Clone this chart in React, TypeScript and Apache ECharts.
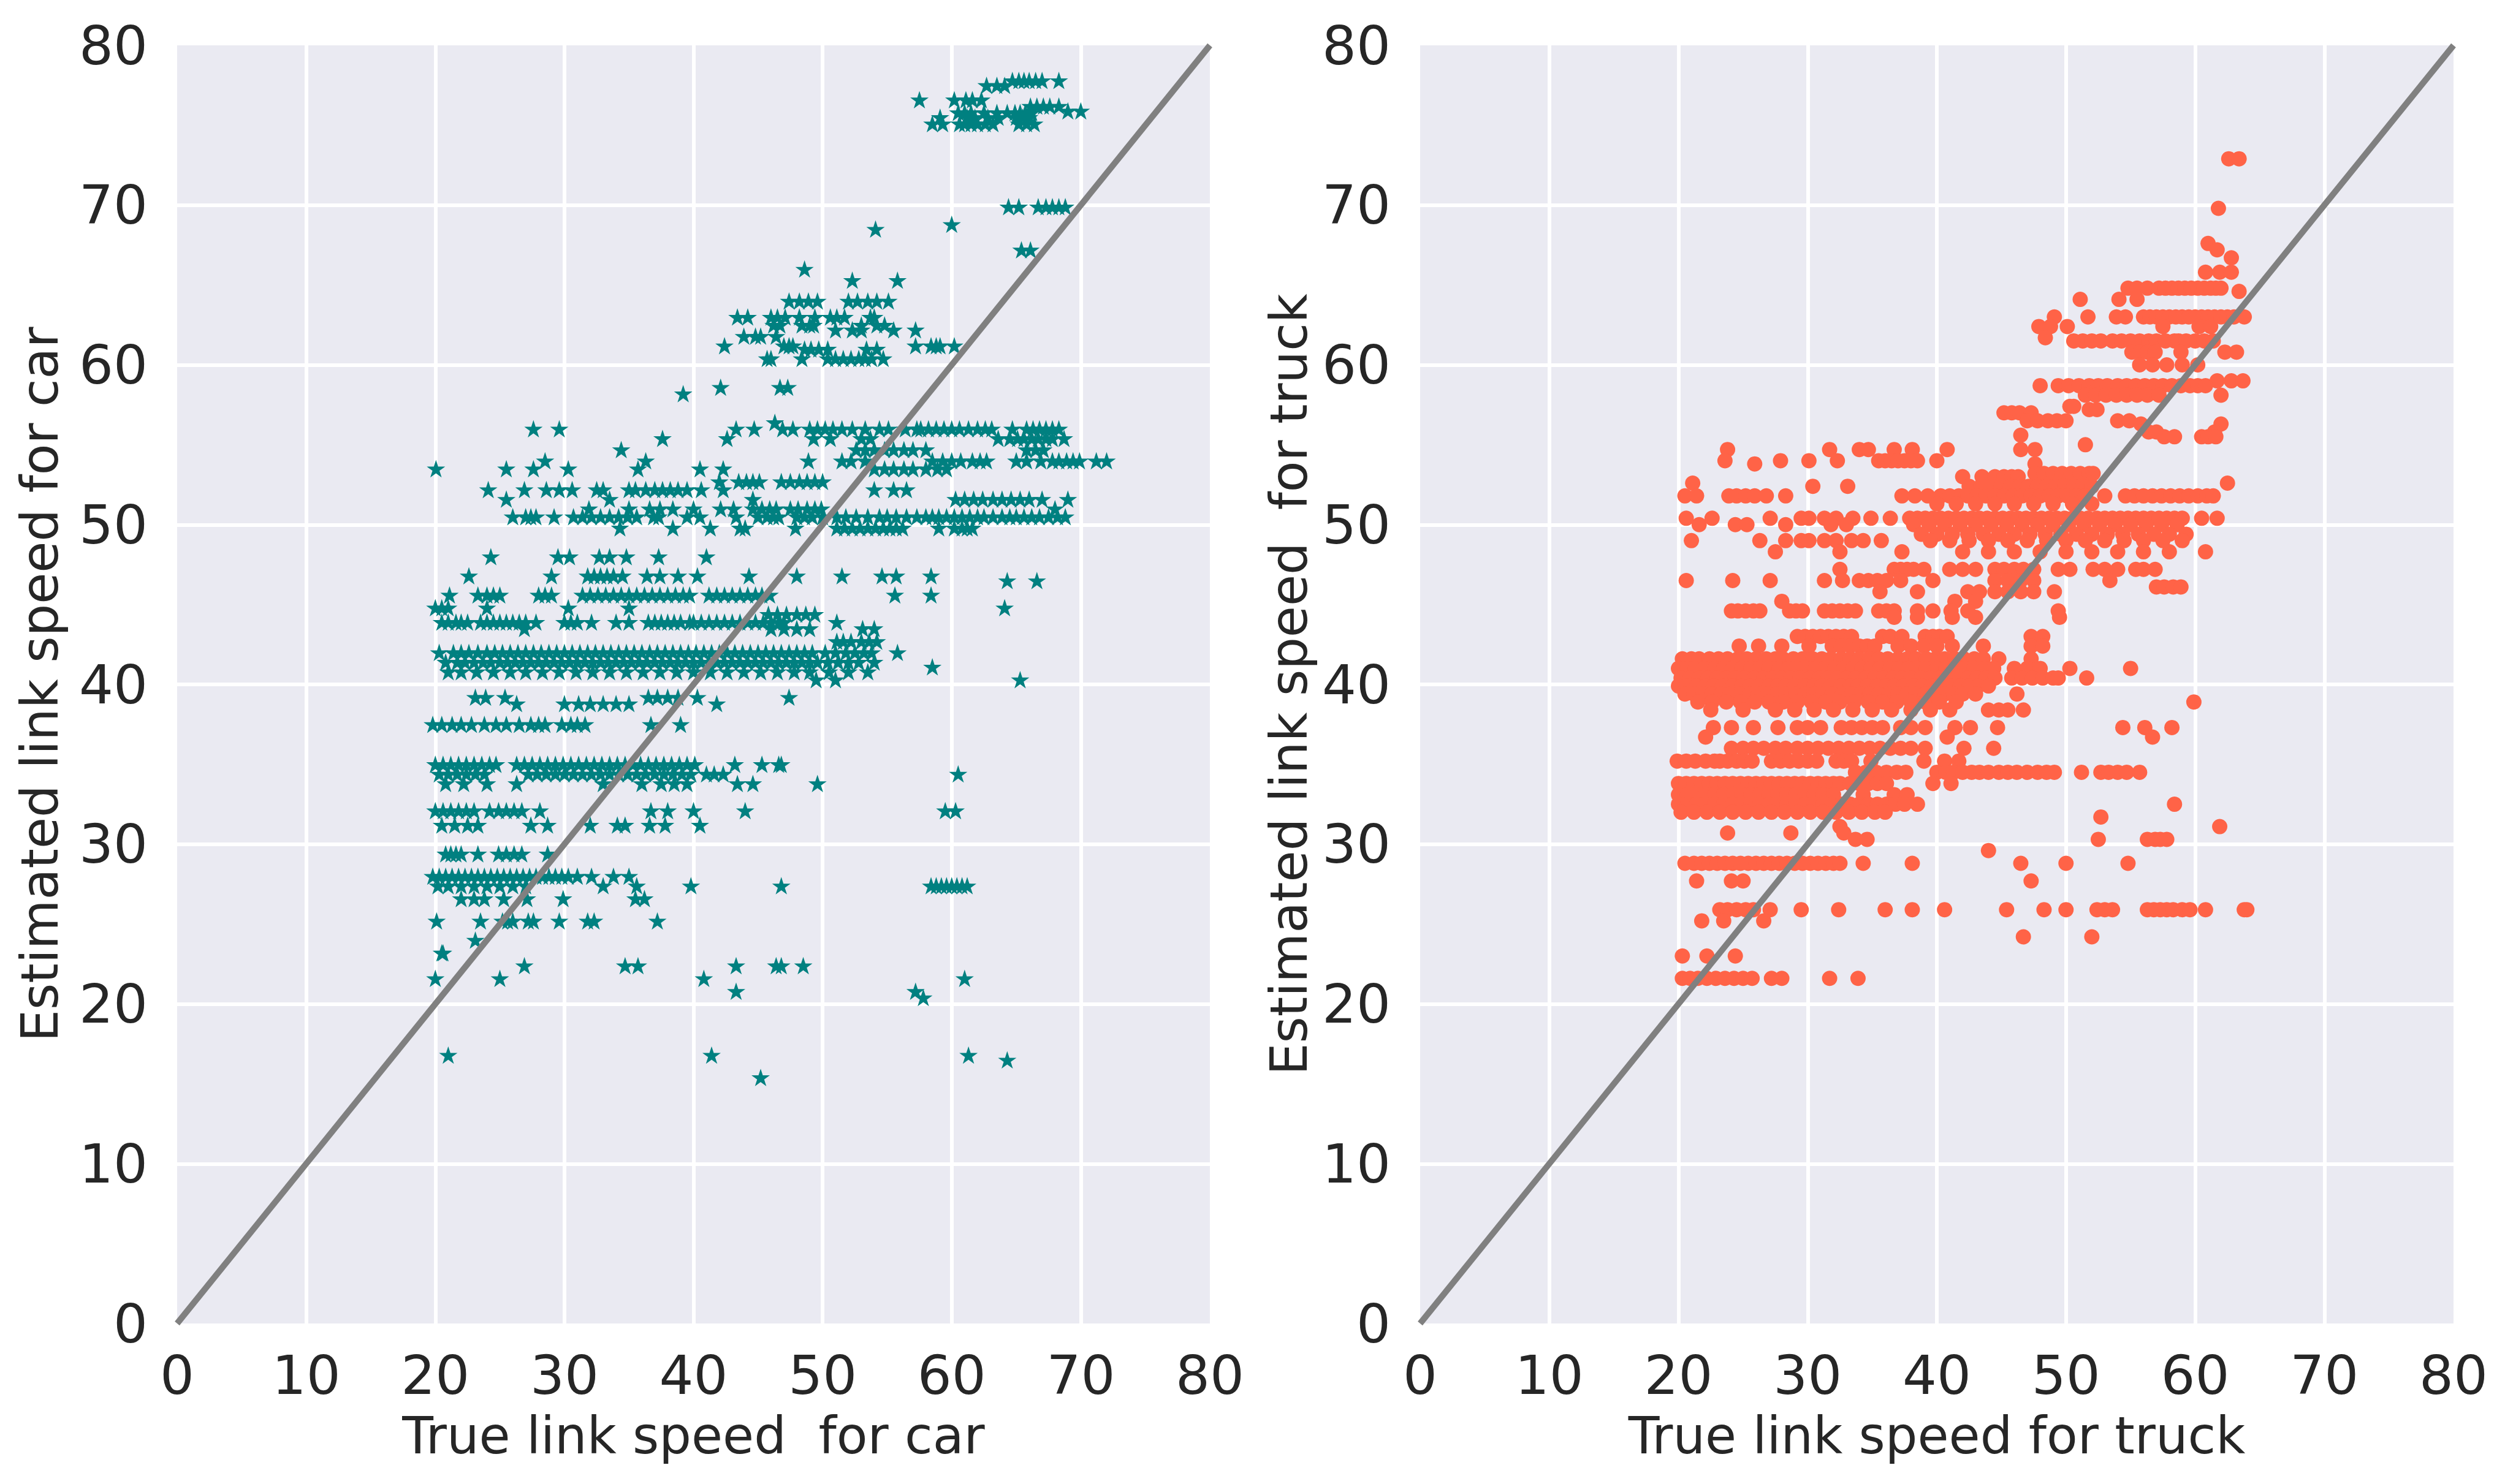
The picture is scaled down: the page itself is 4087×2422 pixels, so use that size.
import React, { useEffect, useRef } from "react";
import * as echarts from "echarts";

// ---- axis ticks ----
const tickValues = [0, 10, 20, 30, 40, 50, 60, 70, 80];

// ---- car: rows of [estimated speed, true speeds...] ----
const carRows: [number, number[]][] = [
  [77.8, [64.7, 65.2, 65.6, 66.0, 66.5, 67.0, 68.3]],
  [77.5, [62.7, 63.5, 64.1]],
  [76.6, [57.5, 60.2, 61.1, 61.6, 62.3]],
  [76.2, [66.1, 66.6, 67.1, 67.6, 68.3]],
  [75.9, [69.0, 70.0]],
  [75.8, [60.5, 61.0, 61.5, 62.5, 63.5, 64.3, 64.9, 65.3, 65.7, 66.2]],
  [75.5, [59.1, 61.2, 61.8, 62.8, 63.6, 65.0, 65.5, 66.0]],
  [75.1, [58.5, 59.3, 60.6, 61.0, 61.5, 62.0, 62.6, 63.2, 65.2, 65.8, 66.4]],
  [69.9, [64.4, 65.2, 66.7, 67.3, 67.8, 68.3, 68.8]],
  [68.8, [60.0]],
  [68.5, [54.1]],
  [67.2, [65.4, 66.1]],
  [66.0, [48.6]],
  [65.3, [52.3, 55.8]],
  [64.0, [47.4, 48.2, 48.9, 49.6, 52.0, 52.7, 53.5, 54.2, 55.1]],
  [63.0, [43.4, 44.2, 46.0, 46.5, 47.1, 48.2, 49.4, 50.6, 51.1, 51.7, 53.7, 54.0]],
  [62.5, [46.2, 46.7, 48.4, 49.0, 49.3, 53.0, 54.2, 54.8]],
  [62.2, [51.0, 52.3, 53.0, 55.5, 57.2]],
  [61.8, [43.9, 44.8, 45.2, 46.4]],
  [61.2, [42.4, 47.0, 47.4, 47.7, 57.2, 58.4, 58.8, 59.1, 60.2]],
  [61.0, [48.6, 49.1, 49.7, 50.4, 53.4, 54.2]],
  [60.4, [45.7, 46.0, 48.4, 50.4, 51.0, 51.6, 52.2, 52.8, 53.3, 53.8, 54.7]],
  [58.6, [42.1, 46.7, 47.3]],
  [58.2, [39.2]],
  [56.4, [46.3]],
  [56.0, [27.6, 29.6, 43.3, 44.7, 46.9, 47.7, 49.0, 49.6, 50.2, 50.8, 51.5, 52.3, 53.3, 54.4, 55.1, 56.4, 57.3, 57.6, 58.2, 58.8, 59.4, 60.0, 60.6, 61.3, 62.0, 62.6, 63.1, 64.7, 65.8, 66.3, 66.8, 67.3, 67.8, 68.3]],
  [55.4, [37.6, 42.6, 49.3, 50.6, 53.0, 53.7, 63.6, 64.5, 65.1, 65.6, 66.2, 66.7, 67.3, 67.8, 68.7]],
  [54.7, [34.4, 52.6, 53.3, 54.0, 54.8, 55.5, 56.3, 57.0, 58.0, 65.8, 66.5, 67.1]],
  [54.0, [28.5, 36.3, 48.9, 51.5, 52.2, 53.3, 58.5, 59.3, 60.0, 60.7, 61.6, 62.2, 62.7, 65.0, 65.8, 66.9, 67.8, 68.3, 68.9, 69.4, 69.9, 71.2, 72.0]],
  [53.5, [20.05, 25.5, 27.6, 30.3, 35.7, 40.5, 42.3, 54.0, 54.8, 55.5, 56.3, 57.0, 58.0, 58.9, 59.6]],
  [52.7, [42.0, 43.5, 44.1, 44.6, 45.1, 46.8, 47.5, 48.2, 48.8, 49.4, 50.0]],
  [52.2, [24.1, 26.9, 28.6, 29.6, 30.6, 32.5, 33.0, 35.0, 35.5, 36.3, 37.0, 37.6, 38.2, 38.8, 39.5, 40.6, 42.3, 54.0, 55.5, 56.5]],
  [51.6, [25.5, 33.5, 44.6, 60.3, 61.0, 61.7, 62.4, 63.2, 63.9, 64.6, 65.3, 66.0, 67.0, 69.0]],
  [51.0, [31.9, 35.0, 36.6, 37.4, 38.4, 40.0, 42.1, 43.1, 44.6, 45.3, 45.9, 46.4, 47.5, 48.1, 48.8, 49.4, 49.9, 68.0]],
  [50.5, [26.0, 27.0, 27.4, 27.8, 29.2, 30.7, 31.4, 32.1, 32.8, 33.5, 34.2, 34.9, 35.6, 36.9, 37.3, 39.5, 40.5, 43.3, 45.0, 45.7, 46.2, 46.6, 48.0, 48.6, 49.2, 50.0, 51.1, 51.8, 52.6, 53.5, 54.4, 55.0, 55.7, 56.5, 57.3, 58.0, 58.5, 59.0, 59.6, 60.2, 60.8, 61.4, 62.0, 62.5, 63.2, 63.9, 64.5, 65.0, 65.6, 66.2, 66.8, 67.5, 68.2, 68.8]],
  [49.8, [34.3, 38.4, 41.3, 43.6, 44.0, 47.9, 51.1, 51.7, 52.3, 52.9, 53.5, 54.1, 54.7, 55.2, 55.7, 56.2, 59.0, 60.2, 60.8, 61.2, 61.6]],
  [48.0, [24.3, 29.5, 30.4, 32.7, 33.5, 34.8, 37.3, 41.0]],
  [46.8, [22.6, 29.0, 31.8, 32.3, 32.8, 33.3, 33.8, 34.5, 36.4, 37.4, 38.8, 40.3, 44.3, 48.0, 51.5, 54.6, 55.7, 58.4]],
  [46.5, [64.3, 66.6]],
  [45.6, [21.1, 23.3, 24.0, 24.5, 25.0, 28.0, 28.5, 29.0, 31.4, 32.0, 32.6, 33.2, 33.8, 34.4, 35.0, 35.6, 36.2, 36.8, 37.4, 38.0, 38.6, 39.2, 39.7, 41.2, 41.8, 42.4, 43.0, 43.6, 44.2, 44.8, 45.3, 45.9, 55.6, 58.4]],
  [44.8, [20.0, 20.5, 21.0, 24.0, 30.3, 35.0, 64.1]],
  [44.4, [45.8, 46.5, 47.2, 48.0, 48.7, 49.4]],
  [43.9, [20.5, 21.0, 21.6, 22.0, 22.5, 23.5, 24.0, 24.5, 25.0, 25.5, 26.0, 26.5, 27.0, 27.8, 30.0, 30.5, 31.0, 32.1, 34.0, 35.0, 36.5, 37.0, 37.5, 38.0, 38.5, 39.0, 39.7, 40.0, 40.6, 41.2, 41.8, 42.4, 43.0, 43.6, 44.2, 44.8, 45.4, 46.0, 46.6, 47.0, 51.1]],
  [43.5, [26.9, 46.0, 47.0, 48.0, 49.0, 53.1, 54.0]],
  [42.7, [51.1, 51.6, 52.2, 53.0, 53.6, 54.2]],
  [42.0, [20.3, 21.4, 22.0, 22.6, 23.3, 24.0, 24.6, 25.2, 25.8, 26.4, 27.0, 27.6, 28.2, 28.8, 29.4, 30.0, 30.6, 31.2, 31.8, 32.4, 33.0, 33.6, 34.2, 34.8, 35.4, 36.0, 36.6, 37.2, 37.8, 38.4, 39.0, 39.6, 40.2, 40.8, 41.4, 42.0, 42.6, 43.2, 43.8, 44.4, 45.0, 45.6, 46.2, 46.8, 47.4, 48.0, 48.6, 49.2, 50.2, 51.0, 51.8, 52.5, 53.2, 53.8, 55.8]],
  [41.4, [20.8, 21.7, 22.3, 23.0, 23.7, 24.3, 25.0, 25.6, 26.2, 26.8, 27.4, 28.0, 28.6, 29.2, 29.8, 30.4, 31.0, 31.6, 32.2, 32.8, 33.4, 34.0, 34.6, 35.2, 35.8, 36.4, 37.0, 37.6, 38.2, 38.8, 39.4, 40.0, 40.6, 41.2, 41.8, 42.4, 43.0, 43.6, 44.2, 44.8, 45.4, 46.0, 46.6, 47.2, 47.8, 48.4, 49.0, 49.6, 50.4, 51.2, 52.0, 52.8, 54.0]],
  [41.1, [58.5]],
  [40.8, [21.0, 22.0, 23.2, 24.5, 25.8, 27.0, 28.3, 29.6, 30.9, 32.2, 33.5, 34.8, 36.1, 37.4, 38.7, 40.0, 41.3, 42.6, 43.9, 45.2, 46.5, 47.8, 49.0, 50.5, 52.0, 53.5]],
  [40.3, [49.5, 51.0, 65.3]],
  [39.2, [23.1, 23.9, 25.4, 36.5, 37.2, 38.0, 38.8, 40.3, 47.4]],
  [38.8, [26.3, 30.0, 31.1, 32.0, 33.0, 34.0, 35.0, 41.8]],
  [37.5, [19.8, 20.5, 21.3, 22.0, 22.8, 23.8, 24.7, 25.5, 26.5, 27.4, 28.0, 28.5, 29.8, 30.5, 31.0, 31.6, 36.7, 39.0]],
  [35.0, [20.0, 20.6, 21.2, 21.8, 22.4, 23.0, 23.6, 24.2, 24.7, 26.3, 26.9, 27.5, 28.1, 28.7, 29.3, 29.9, 30.5, 31.1, 31.7, 32.3, 32.9, 33.5, 34.1, 34.7, 35.3, 35.9, 36.5, 37.1, 37.7, 38.3, 38.9, 39.5, 40.1, 43.2, 45.3, 46.6, 46.8]],
  [34.4, [20.3, 21.0, 21.7, 22.4, 23.1, 23.8, 27.2, 27.9, 28.6, 29.3, 30.0, 30.7, 31.4, 32.1, 32.8, 33.5, 34.2, 34.9, 35.6, 36.3, 37.0, 37.7, 38.4, 39.1, 39.8, 41.0, 41.6, 42.3, 60.5]],
  [33.8, [20.8, 22.2, 24.0, 26.3, 33.0, 36.0, 37.5, 38.5, 39.5, 43.4, 44.6, 49.6]],
  [32.1, [20.0, 20.6, 21.2, 21.8, 22.4, 23.0, 24.2, 24.9, 25.5, 26.1, 26.7, 28.1, 36.7, 38.0, 40.0, 44.0, 59.5, 60.3]],
  [31.2, [20.5, 21.5, 22.5, 23.3, 27.4, 28.7, 32.0, 34.1, 34.7, 36.6, 37.8, 40.5]],
  [29.4, [20.8, 21.2, 21.6, 22.0, 23.3, 24.9, 25.5, 26.1, 26.7, 28.7]],
  [28.0, [19.8, 20.3, 20.8, 21.3, 21.8, 22.3, 22.8, 23.3, 23.8, 24.3, 24.8, 25.3, 25.8, 26.3, 26.8, 27.3, 27.8, 28.3, 28.8, 29.3, 29.8, 30.3, 31.0, 32.1, 33.8, 35.0]],
  [27.4, [20.2, 21.0, 22.0, 23.0, 24.0, 25.0, 26.0, 27.0, 33.0, 35.6, 39.8, 46.8, 58.4, 58.8, 59.2, 59.6, 60.0, 60.4, 60.8, 61.2]],
  [26.6, [22.0, 23.0, 23.8, 25.3, 27.1, 29.9, 35.5, 36.2]],
  [25.2, [20.1, 23.5, 25.2, 25.6, 26.0, 27.2, 27.6, 29.6, 31.8, 32.3, 37.2]],
  [24.0, [23.1]],
  [23.2, [20.5, 20.6]],
  [22.4, [26.9, 34.7, 35.7, 43.3, 46.4, 46.8, 48.5]],
  [21.6, [20.0, 25.0, 40.8, 61.0]],
  [20.8, [43.3, 57.2]],
  [20.4, [57.8]],
  [16.8, [21.0, 41.4, 61.3]],
  [16.5, [64.3]],
  [15.4, [45.2]],
];

// ---- truck: rows of [estimated speed, true speeds...] ----
const truckRows: [number, number[]][] = [
  [72.9, [62.6, 63.4]],
  [69.8, [61.8]],
  [67.6, [61.0]],
  [67.2, [61.7]],
  [66.7, [62.8]],
  [65.8, [60.8, 61.9, 62.8]],
  [64.8, [54.8, 55.5, 56.3, 57.2, 57.7, 58.2, 58.7, 59.2, 59.7, 60.2, 60.7, 61.2, 61.6, 62.0]],
  [64.6, [63.4]],
  [64.1, [51.1, 54.1, 55.5]],
  [63.0, [49.1, 51.7, 53.9, 54.6, 56.0, 56.5, 57.0, 57.5, 58.0, 58.5, 59.0, 59.5, 60.0, 60.5, 61.0, 61.5, 62.0, 62.5, 63.0, 63.8]],
  [62.4, [47.9, 48.8, 50.1, 57.5, 60.3, 61.2]],
  [61.7, [48.4]],
  [61.5, [50.6, 51.3, 52.0, 52.7, 53.6, 54.3, 55.0, 55.7, 56.4, 57.0, 57.7, 58.4, 58.7, 59.3, 60.0, 60.7, 61.4]],
  [60.8, [55.1, 55.7, 56.3, 56.9, 58.9, 62.3, 63.2]],
  [60.0, [55.7, 56.7, 57.8, 59.0, 60.2]],
  [59.0, [61.7, 62.8, 63.7]],
  [58.7, [48.0, 49.4, 50.2, 51.0, 51.8, 52.5, 53.2, 54.0, 54.7, 55.4, 56.1, 56.8, 57.5, 58.2, 58.9, 59.6, 60.2, 60.8]],
  [58.1, [51.5, 52.3, 53.1, 53.9, 54.7, 55.5, 56.3, 57.2, 62.0]],
  [57.4, [50.3, 50.6]],
  [57.2, [51.8, 52.4]],
  [57.0, [45.2, 45.8, 46.4, 47.3]],
  [56.5, [47.0, 47.8, 48.6, 49.3, 50.0, 54.0, 54.9]],
  [56.3, [55.8, 62.0]],
  [55.8, [56.4, 57.0, 61.5]],
  [55.5, [57.6, 58.4, 60.5, 61.0, 61.6]],
  [55.6, [46.5]],
  [55.0, [51.5]],
  [54.7, [23.8, 31.7, 34.0, 34.7, 36.7, 38.1, 40.8, 46.5, 47.6]],
  [54.0, [23.6, 27.9, 30.1, 32.3, 35.5, 36.0, 36.5, 37.0, 37.5, 38.0, 38.5, 40.0]],
  [53.8, [25.9, 47.6]],
  [53.2, [47.6, 48.3, 49.0, 49.7, 50.4, 51.1, 51.8, 52.1]],
  [53.0, [42.0, 43.5, 44.5, 45.2, 45.8, 46.3]],
  [52.6, [21.1, 62.5]],
  [52.4, [30.4, 33.1, 42.5, 43.4, 44.3, 45.0, 45.7, 46.4, 47.1, 47.8, 48.5, 49.2, 49.9, 50.6, 51.3, 52.0]],
  [51.8, [20.5, 21.4, 23.9, 24.5, 25.2, 25.9, 26.8, 28.3, 37.3, 38.3, 39.3, 40.3, 41.0, 41.7, 42.4, 43.1, 43.8, 44.5, 45.2, 45.9, 46.6, 47.3, 48.0, 48.7, 49.4, 50.1, 50.8, 51.5, 53.0, 54.6, 55.3, 56.0, 56.7, 57.4, 58.1, 58.8, 59.5, 60.2, 60.9, 61.4]],
  [51.3, [40.0, 41.5, 43.0, 44.5, 46.0, 47.5, 49.0, 50.5, 52.0]],
  [50.4, [20.6, 22.6, 27.1, 29.5, 30.1, 31.3, 32.2, 33.5, 34.9, 36.4, 37.9, 38.5, 39.1, 39.7, 40.3, 40.9, 41.5, 42.1, 42.7, 43.3, 43.9, 44.5, 45.1, 45.7, 46.3, 46.9, 47.5, 48.1, 48.7, 49.3, 49.9, 50.5, 51.1, 51.7, 52.4, 53.0, 53.6, 54.2, 54.8, 55.4, 56.0, 56.6, 57.2, 57.8, 58.4, 59.0, 60.5, 61.7]],
  [50.0, [21.6, 24.4, 25.3, 28.3, 31.8, 33.0, 38.2, 39.4, 40.6, 41.8, 43.0, 44.2, 45.4, 46.6, 47.8, 49.0, 50.2, 51.4, 52.6, 53.8, 55.0, 56.2, 57.4, 58.6]],
  [49.4, [38.8, 40.0, 41.2, 42.4, 43.6, 44.8, 46.0, 47.2, 48.4, 49.6, 50.8, 52.0, 53.2, 54.4, 55.6, 56.8, 58.0, 59.3]],
  [49.0, [21.0, 26.3, 28.3, 29.5, 30.1, 31.3, 32.2, 33.4, 34.3, 35.7, 39.5, 41.0, 42.5, 44.0, 45.5, 47.0, 48.5, 50.0, 51.5, 53.0, 54.5, 56.0, 57.5, 59.0]],
  [48.3, [27.5, 32.5, 37.3, 42.0, 44.0, 46.0, 48.0, 50.0, 52.0, 54.0, 56.0, 58.0, 60.8]],
  [47.2, [32.5, 36.7, 37.2, 37.7, 38.2, 39.0, 41.0, 42.0, 43.0, 44.5, 45.2, 46.0, 46.7, 47.5, 49.4, 50.3, 52.1, 53.0, 54.0, 55.4, 56.0, 56.9]],
  [46.5, [20.6, 24.2, 27.1, 31.3, 32.7, 34.0, 34.7, 35.4, 36.1, 37.2, 39.7, 44.5, 45.5, 46.5, 47.5, 53.4]],
  [46.1, [57.0, 57.6, 58.3, 58.9]],
  [45.8, [35.6, 38.5, 42.4, 43.3, 44.5, 45.5, 46.5, 47.5, 49.1]],
  [45.2, [28.0, 41.4, 43.0]],
  [44.6, [24.1, 24.6, 25.2, 25.8, 26.3, 28.6, 29.1, 29.6, 31.3, 31.9, 32.5, 33.1, 33.7, 35.5, 36.1, 36.7, 38.5, 39.7, 41.1, 42.4, 49.4]],
  [44.2, [36.7, 38.5, 41.2, 43.0, 49.5]],
  [43.0, [29.2, 29.8, 30.4, 31.0, 31.6, 32.2, 32.8, 33.4, 35.8, 36.4, 37.3, 39.1, 39.7, 40.2, 40.8, 47.3, 48.2]],
  [42.4, [24.7, 26.2, 28.0, 30.1, 31.9, 32.6, 33.3, 34.0, 34.6, 35.2, 37.0, 38.0, 39.0, 40.0, 41.2, 43.6, 47.3, 48.2]],
  [41.6, [20.3, 21.0, 21.6, 22.4, 23.1, 23.8, 24.6, 25.3, 26.0, 26.8, 27.5, 28.1, 28.9, 29.6, 30.4, 31.1, 31.8, 32.6, 33.3, 34.0, 34.8, 35.5, 36.2, 37.0, 37.7, 38.4, 39.2, 39.9, 40.6, 41.4, 42.1, 42.9, 43.6, 44.8, 47.3]],
  [41.0, [20.0, 20.7, 21.3, 22.0, 22.8, 23.5, 24.2, 24.9, 25.6, 26.3, 27.0, 27.8, 28.5, 29.2, 29.9, 30.6, 31.3, 32.1, 32.8, 33.5, 34.2, 34.9, 35.6, 36.4, 37.1, 37.8, 38.5, 39.2, 40.0, 40.7, 41.4, 42.2, 42.9, 43.7, 44.4, 46.0, 47.0, 48.0, 50.3, 55.0]],
  [40.4, [20.2, 20.9, 21.6, 22.3, 23.0, 23.7, 24.4, 25.1, 25.9, 26.6, 27.3, 28.0, 28.7, 29.4, 30.2, 30.9, 31.6, 32.3, 33.0, 33.7, 34.5, 35.2, 35.9, 36.6, 37.3, 38.0, 38.8, 39.5, 40.2, 40.9, 41.6, 42.4, 43.1, 43.8, 44.5, 45.8, 46.6, 47.4, 48.2, 49.0, 49.4, 51.6]],
  [39.9, [20.0, 20.6, 21.4, 22.1, 22.7, 23.4, 24.2, 24.9, 25.5, 26.2, 27.0, 27.7, 28.3, 29.0, 29.8, 30.5, 31.1, 31.8, 32.6, 33.3, 33.9, 34.6, 35.4, 36.1, 36.7, 37.4, 38.2, 38.9, 39.6, 40.3, 41.0, 41.8, 42.5, 43.2, 44.0]],
  [39.4, [20.5, 21.2, 21.9, 22.6, 23.3, 24.0, 24.8, 25.5, 26.2, 26.9, 27.6, 28.3, 29.1, 29.8, 30.5, 31.2, 31.9, 32.7, 33.4, 34.1, 34.8, 35.5, 36.3, 37.0, 37.7, 38.4, 39.1, 39.9, 40.6, 41.3, 42.0, 43.0, 46.2]],
  [38.9, [21.5, 22.6, 23.7, 24.8, 25.9, 27.0, 28.1, 29.2, 30.3, 31.4, 32.5, 33.6, 34.7, 35.8, 36.9, 38.0, 39.1, 40.2, 41.5, 59.9]],
  [38.4, [22.5, 25.0, 27.5, 29.0, 30.5, 32.0, 33.5, 35.0, 36.5, 38.0, 39.5, 41.0, 44.0, 44.8, 45.5, 46.7]],
  [37.3, [22.7, 24.1, 25.8, 27.7, 29.2, 30.0, 31.0, 32.6, 33.4, 34.2, 35.0, 35.8, 37.2, 38.0, 39.1, 41.4, 42.6, 44.7, 54.4, 56.1, 58.2]],
  [36.7, [22.1, 40.8, 56.7]],
  [36.0, [24.1, 25.0, 25.8, 26.6, 27.5, 28.3, 29.2, 30.0, 30.8, 31.6, 32.4, 33.2, 34.0, 34.8, 35.6, 36.4, 37.2, 38.0, 39.1, 42.1, 44.4]],
  [35.2, [19.9, 20.6, 21.3, 22.1, 22.8, 23.2, 23.8, 24.5, 25.1, 25.7, 27.2, 27.9, 28.6, 29.3, 30.0, 30.7, 32.2, 32.8, 33.4, 34.9, 39.0, 40.6, 41.7]],
  [34.5, [33.7, 34.5, 35.3, 36.1, 36.9, 37.6, 40.0, 40.7, 41.3, 42.0, 42.7, 43.3, 44.0, 44.8, 45.5, 46.2, 47.0, 47.8, 48.5, 49.1, 51.2, 52.7, 53.3, 54.0, 54.7, 55.7]],
  [33.8, [20.0, 20.6, 21.2, 21.8, 22.4, 23.0, 23.6, 24.2, 24.8, 25.4, 26.0, 26.6, 27.2, 27.8, 28.4, 29.0, 29.6, 30.2, 30.8, 31.4, 32.0, 32.5, 33.3, 34.0, 34.7, 35.4, 36.1, 39.7, 41.1]],
  [33.1, [20.0, 20.7, 21.4, 22.1, 22.8, 23.5, 24.2, 24.9, 25.6, 26.3, 27.0, 27.7, 28.4, 29.1, 29.8, 30.5, 31.2, 32.0, 34.3, 36.7, 37.7]],
  [32.5, [20.0, 20.7, 21.4, 22.1, 22.8, 23.5, 24.2, 24.9, 25.6, 26.3, 27.0, 27.7, 28.4, 29.1, 29.8, 30.5, 31.2, 31.9, 32.6, 33.3, 34.0, 34.7, 35.4, 36.1, 36.8, 37.5, 38.5, 58.4]],
  [32.0, [20.2, 21.2, 22.2, 23.2, 24.2, 25.2, 26.2, 27.2, 28.2, 29.2, 30.2, 31.2, 32.2, 33.2, 34.2, 35.2, 36.0]],
  [31.7, [52.7]],
  [31.1, [32.5, 61.9]],
  [30.7, [23.8, 28.7, 32.8]],
  [30.3, [33.7, 34.6, 52.5, 56.3, 56.9, 57.3, 57.8]],
  [29.6, [44.0]],
  [28.8, [20.5, 21.2, 21.8, 22.4, 23.0, 23.6, 24.2, 24.8, 25.4, 26.0, 26.6, 27.2, 27.8, 28.4, 29.0, 29.6, 30.2, 30.8, 31.4, 32.0, 32.5, 34.3, 38.1, 46.5, 50.0, 54.8]],
  [27.7, [21.4, 24.1, 25.0, 47.3]],
  [25.9, [23.2, 23.8, 24.5, 25.2, 25.8, 27.1, 29.5, 32.4, 36.0, 38.1, 40.6, 45.4, 48.3, 50.0, 52.4, 53.0, 53.6, 56.3, 56.8, 57.3, 57.8, 58.3, 59.0, 59.6, 60.8, 63.8, 64.0]],
  [25.2, [21.8, 23.5, 26.6]],
  [24.2, [46.7, 52.0]],
  [23.0, [20.3, 22.2, 24.4]],
  [21.6, [20.3, 20.9, 21.5, 22.2, 22.9, 23.6, 24.3, 25.0, 25.7, 27.2, 28.0, 31.7, 33.9]],
];

// reference line (estimated = true)
const identityLine = [[0, 0], [80, 80]];

const STAR =
  "path://M50,0 L61.2,34.5 L97.6,34.5 L68.2,55.9 L79.4,90.5 L50,69.1 L20.6,90.5 L31.8,55.9 L2.4,34.5 L38.8,34.5 Z";

function rowsToPoints(rows: [number, number[]][]) {
  const out: number[][] = [];
  for (const [y, xs] of rows) for (const x of xs) out.push([x, y]);
  return out;
}

const FONT = "DejaVu Sans";
const TEXT = "#262626";

function axis(name: string, gap: number, idx: number, isY: boolean) {
  return {
    type: "value",
    gridIndex: idx,
    min: tickValues[0],
    max: tickValues[tickValues.length - 1],
    interval: tickValues[1] - tickValues[0],
    axisLine: { show: false },
    axisTick: { show: false },
    splitLine: {
      show: true,
      showMinLine: false,
      showMaxLine: false,
      lineStyle: { color: "#ffffff", width: 6 },
    },
    axisLabel: {
      fontSize: 88,
      color: TEXT,
      fontFamily: FONT,
      margin: isY ? 48 : 40,
    },
    name,
    nameLocation: "middle",
    nameGap: gap,
    nameTextStyle: { fontSize: 83, color: TEXT, fontFamily: FONT },
  };
}

export default function App() {
  const ref = useRef<HTMLDivElement>(null);
  useEffect(() => {
    if (!ref.current) return;
    const chart = echarts.init(ref.current, undefined, { renderer: "svg" });
    const carPts = rowsToPoints(carRows);
    const truckPts = rowsToPoints(truckRows);
    chart.setOption({
      animation: false,
      backgroundColor: "#ffffff",
      grid: [
        { left: 289, top: 74, width: 1685, height: 2086, show: true, backgroundColor: "#EAEAF2", borderWidth: 0 },
        { left: 2317, top: 74, width: 1686, height: 2086, show: true, backgroundColor: "#EAEAF2", borderWidth: 0 },
      ],
      xAxis: [
        axis("True link speed  for car", 142, 0, false),
        axis("True link speed for truck", 142, 1, false),
      ],
      yAxis: [
        axis("Estimated link speed for car", 182, 0, true),
        axis("Estimated link speed  for truck", 172, 1, true),
      ],
      series: [
        {
          type: "scatter",
          xAxisIndex: 0,
          yAxisIndex: 0,
          data: carPts,
          symbol: STAR,
          symbolKeepAspect: true,
          symbolSize: 30,
          itemStyle: { color: "#008080", opacity: 1 },
          progressive: 0,
          large: false,
          z: 2,
        },
        {
          type: "line",
          xAxisIndex: 0,
          yAxisIndex: 0,
          data: identityLine,
          showSymbol: false,
          symbol: "none",
          lineStyle: { color: "#808080", width: 10 },
          z: 5,
          silent: true,
        },
        {
          type: "scatter",
          xAxisIndex: 1,
          yAxisIndex: 1,
          data: truckPts,
          symbol: "circle",
          symbolSize: 25,
          itemStyle: { color: "#FF6347", opacity: 1 },
          progressive: 0,
          large: false,
          z: 2,
        },
        {
          type: "line",
          xAxisIndex: 1,
          yAxisIndex: 1,
          data: identityLine,
          showSymbol: false,
          symbol: "none",
          lineStyle: { color: "#808080", width: 10 },
          z: 5,
          silent: true,
        },
      ],
    });
    return () => chart.dispose();
  }, []);
  return (
    <div
      ref={ref}
      style={{ position: "fixed", left: 0, top: 0, width: 4087, height: 2422, background: "#ffffff" }}
    />
  );
}
